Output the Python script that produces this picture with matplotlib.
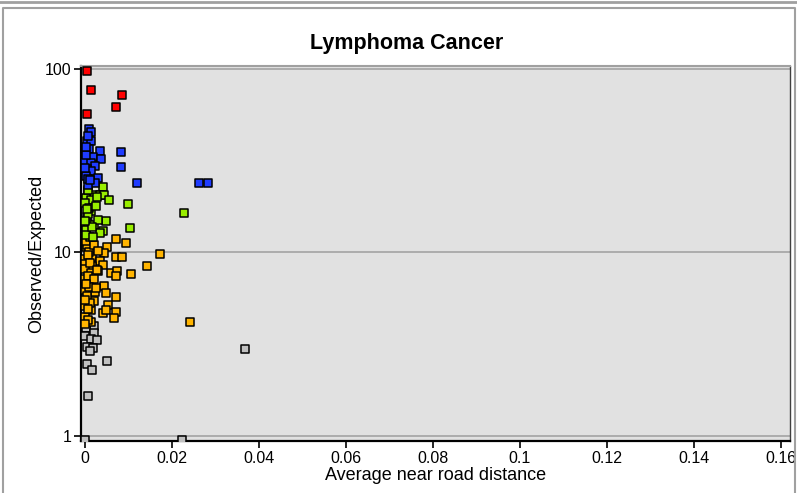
import matplotlib.pyplot as plt
from matplotlib.lines import Line2D
from matplotlib.ticker import FixedLocator, FuncFormatter

plt.rcParams['font.family'] = ['Liberation Sans', 'DejaVu Sans']

# Observed/Expected vs average near road distance, grouped by colour class
red_x = [0.0005, 0.0014, 0.0085, 0.0071, 0.0004]
red_y = [98.0, 76.5, 72.0, 62.0, 57.0]

blue_x = [0.0010, 0.0015, 0.0004, 0.0015, 0.0010, 0.0035, 0.0082, 0.0018,
          0.0037, 0.0001, 0.0014, 0.0024, 0.0082, 0.0005, 0.0015, 0.0031,
          0.0003, 0.0024, 0.0007, 0.0120, 0.0262, 0.0282, 0.0006, 0.0002,
          0.0008, 0.0003, 0.0012, 0.0001]
blue_y = [46.9, 45.5, 40.5, 40.5, 36.5, 35.7, 35.2, 33.3,
          32.2, 31.3, 30.6, 29.6, 29.1, 28.5, 27.8, 25.6,
          26.1, 23.8, 23.3, 23.8, 24.0, 24.0, 25.3, 34.0,
          43.0, 37.8, 24.8, 29.0]

green_x = [0.0041, 0.0007, 0.0020, 0.0035, 0.0045, 0.0055, 0.0003, 0.0014,
           0.0001, 0.0099, 0.0014, 0.0228, 0.0005, 0.0048, 0.0007, 0.0020,
           0.0103, 0.0003, 0.0041, 0.0034, 0.0012, 0.0002, 0.0018, 0.0010,
           0.0025, 0.0006, 0.0030, 0.0016, 0.0028, 0.0008, 0.0001, 0.0004]
green_y = [22.7, 21.4, 20.6, 20.6, 20.6, 19.3, 19.7, 19.3,
           18.6, 18.3, 16.9, 16.4, 15.6, 14.9, 14.3, 14.1,
           13.6, 13.3, 13.1, 12.7, 12.2, 12.5, 12.1, 17.5,
           18.0, 16.2, 15.0, 13.8, 20.0, 22.0, 14.8, 17.2]

orange_x = [0.0072, 0.0095, 0.0051, 0.0003, 0.0018, 0.0045, 0.0072, 0.0085,
            0.0173, 0.0001, 0.0016, 0.0034, 0.0001, 0.0041, 0.0016, 0.0143,
            0.0000, 0.0031, 0.0014, 0.0060, 0.0074, 0.0072, 0.0105, 0.0000,
            0.0013, 0.0045, 0.0001, 0.0024, 0.0049, 0.0072, 0.0021, 0.0001,
            0.0053, 0.0014, 0.0041, 0.0049, 0.0072, 0.0001, 0.0068, 0.0014,
            0.0241, 0.0005, 0.0010, 0.0007, 0.0012, 0.0006, 0.0020, 0.0009,
            0.0004, 0.0011, 0.0006, 0.0025, 0.0028, 0.0008, 0.0003, 0.0022,
            0.0030, 0.0000, 0.0002, 0.0001]
orange_y = [11.8, 11.3, 10.7, 10.7, 10.4, 9.9, 9.5, 9.5,
            9.75, 9.2, 9.4, 9.0, 8.65, 8.5, 8.4, 8.4,
            8.1, 7.9, 7.7, 7.7, 7.9, 7.45, 7.6, 7.14,
            6.8, 6.6, 6.25, 6.1, 6.0, 5.7, 5.46, 5.1,
            5.17, 4.83, 4.67, 4.83, 4.74, 4.47, 4.40, 4.2,
            4.18, 11.0, 10.0, 9.7, 8.8, 7.4, 7.2, 6.5,
            5.8, 5.3, 4.9, 6.4, 8.0, 4.3, 11.5, 11.0,
            10.2, 5.5, 6.7, 4.1]

gray_x = [0.0021, 0.0002, 0.0021, 0.0001, 0.0015, 0.0027, 0.0004, 0.0019,
          0.0011, 0.0051, 0.0004, 0.0017, 0.0007, 0.0368, 0.0224, 0.0001]
gray_y = [3.98, 3.86, 3.64, 3.51, 3.37, 3.34, 3.07, 3.03,
          2.90, 2.56, 2.47, 2.29, 1.65, 2.98, 0.95, 0.95]

x_ticks = [0, 0.02, 0.04, 0.06, 0.08, 0.1, 0.12, 0.14, 0.16]
y_ticks = [1, 10, 100]

groups = [
    (gray_x, gray_y, '#c0c0c0'),
    (orange_x, orange_y, '#ffb400'),
    (green_x, green_y, '#99ee00'),
    (blue_x, blue_y, '#1f3cff'),
    (red_x, red_y, '#ff0000'),
]

fig = plt.figure(figsize=(7.97, 4.93), dpi=100)
W, H = 797, 493
ax = fig.add_axes([81 / W, (H - 441) / H, (790 - 81) / W, (441 - 66) / H])
ax.set_facecolor('#e1e1e1')

for gx, gy, col in groups:
    ax.scatter(gx, gy, marker='s', s=36, c=col, edgecolors='black',
               linewidths=1.1, zorder=3)

ax.set_yscale('log')
ax.set_ylim(0.939, 103.8)
ax.set_xlim(-0.0009, 0.1621)
ax.yaxis.set_major_locator(FixedLocator(y_ticks))
ax.yaxis.set_minor_locator(FixedLocator([]))
ax.yaxis.set_major_formatter(FuncFormatter(lambda v, p: '%g' % v))
ax.xaxis.set_major_locator(FixedLocator(x_ticks))
ax.xaxis.set_major_formatter(FuncFormatter(lambda v, p: '%g' % v))

ax.grid(axis='y', which='major', color='#a8a8a8', linewidth=1.3, zorder=1)
ax.set_axisbelow(True)

ax.spines['left'].set_linewidth(1.6)
ax.spines['bottom'].set_linewidth(1.6)
ax.spines['top'].set_color('#a0a0a0')
ax.spines['top'].set_linewidth(1.5)
ax.spines['right'].set_color('#404040')
ax.spines['right'].set_linewidth(1.0)
ax.tick_params(direction='out', length=5, width=1.2, labelsize=11.5,
               color='black', pad=2)

fig.text(407 / W, 1 - 44 / H, 'Lymphoma Cancer', fontsize=15.5,
         fontweight='bold', ha='center', va='center')
ax.set_xlabel('Average near road distance', fontsize=13, labelpad=1)
ax.set_ylabel('Observed/Expected', fontsize=13, labelpad=0)

# panel frame of the screenshot
fig.add_artist(Line2D([0, 1], [1 - 1.5 / H, 1 - 1.5 / H], color='#a0a0a0', lw=2))
fig.add_artist(Line2D([3 / W, 3 / W, 795 / W, 795 / W],
                      [0, 1 - 7.5 / H, 1 - 7.5 / H, 0], color='#a0a0a0', lw=1.5))

fig.savefig('out.png', dpi=100)
